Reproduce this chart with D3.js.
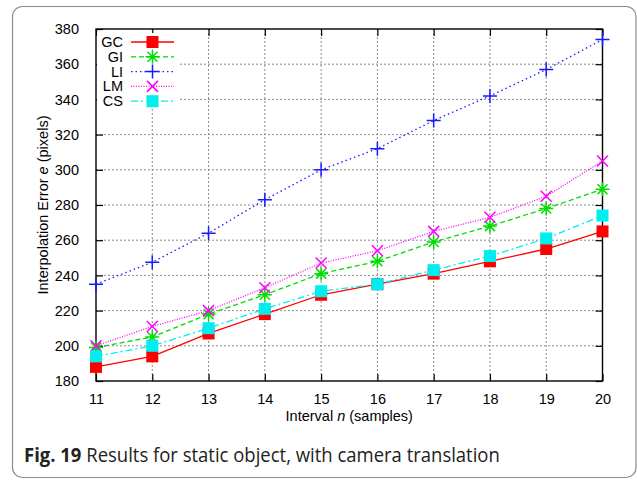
<!DOCTYPE html>
<html>
<head>
<meta charset="utf-8">
<script src="https://cdn.jsdelivr.net/npm/d3@7"></script>
<style>
  html, body { margin: 0; padding: 0; background: #fff; }
  svg { display: block; }
</style>
</head>
<body>
<svg id="chart" width="637" height="480"></svg>
<script>
// Interval n (samples)
const intervals = [11, 12, 13, 14, 15, 16, 17, 18, 19, 20];

// Interpolation error e (pixels) per method
const gcValues = [188, 194, 207, 218, 229, 235, 241, 248, 255, 265];
const giValues = [199, 205, 218, 229, 241, 248, 259, 268, 278, 289];
const liValues = [235, 247.5, 264, 283, 300, 312, 328, 342, 357, 374];
const lmValues = [200, 211, 220, 233, 247, 254, 265, 273, 285, 305];
const csValues = [194, 200, 210, 221, 231, 235, 243, 251, 261, 274];

const seriesNames = ["GC", "GI", "LI", "LM", "CS"];
const xTicks = [11, 12, 13, 14, 15, 16, 17, 18, 19, 20];
const yTicks = [180, 200, 220, 240, 260, 280, 300, 320, 340, 360, 380];

const series = [
  { name: seriesNames[0], values: gcValues, color: "#ff0000", dash: null,        marker: "square" },
  { name: seriesNames[1], values: giValues, color: "#00dd00", dash: "5,3",       marker: "star" },
  { name: seriesNames[2], values: liValues, color: "#1a1aff", dash: "1.5,3",     marker: "plus" },
  { name: seriesNames[3], values: lmValues, color: "#ff00ff", dash: "1,1.5",     marker: "cross" },
  { name: seriesNames[4], values: csValues, color: "#00eeee", dash: "7,3,2,3",   marker: "square" }
];

const svg = d3.select("#chart");
const font = "'Liberation Sans', Arial, Helvetica, sans-serif";

// outer rounded frame
svg.append("rect")
  .attr("x", 12.5).attr("y", 6.5).attr("width", 623.5).attr("height", 471)
  .attr("rx", 10).attr("ry", 10)
  .attr("fill", "none").attr("stroke", "#8a8a8a").attr("stroke-width", 1.2);

const plot = { left: 96, right: 602.5, top: 29, bottom: 381 };

const x = d3.scaleLinear().domain([11, 20]).range([plot.left, plot.right]);
const y = d3.scaleLinear().domain([180, 380]).range([plot.bottom, plot.top]);

const g = svg.append("g");

// grid
g.append("g").selectAll("line").data(xTicks.slice(1, -1)).join("line")
  .attr("x1", d => x(d)).attr("x2", d => x(d))
  .attr("y1", plot.top).attr("y2", plot.bottom)
  .attr("stroke", "#8c8c8c").attr("stroke-width", 1).attr("stroke-dasharray", "2,2");
g.append("g").selectAll("line").data(yTicks.slice(1, -1)).join("line")
  .attr("y1", d => y(d)).attr("y2", d => y(d))
  .attr("x1", plot.left).attr("x2", plot.right)
  .attr("stroke", "#8c8c8c").attr("stroke-width", 1).attr("stroke-dasharray", "2,2");

// axes with inward ticks on all sides
const tickLen = 7;
const axisStyle = sel => {
  sel.select(".domain").remove();
  sel.selectAll(".tick line").attr("stroke", "#000").attr("stroke-width", 1.2);
  sel.selectAll(".tick text").attr("font-family", font).attr("font-size", 14.5).attr("fill", "#000");
};

g.append("g").attr("transform", `translate(0,${plot.bottom})`)
  .call(d3.axisBottom(x).tickValues(xTicks).tickFormat(d3.format("d")).tickSizeInner(-tickLen).tickSizeOuter(0).tickPadding(13))
  .call(axisStyle);
g.append("g").attr("transform", `translate(0,${plot.top})`)
  .call(d3.axisTop(x).tickValues(xTicks).tickFormat("").tickSizeInner(-tickLen).tickSizeOuter(0))
  .call(axisStyle);
g.append("g").attr("transform", `translate(${plot.left},0)`)
  .call(d3.axisLeft(y).tickValues(yTicks).tickFormat(d3.format("d")).tickSizeInner(-tickLen).tickSizeOuter(0).tickPadding(17))
  .call(axisStyle);
g.append("g").attr("transform", `translate(${plot.right},0)`)
  .call(d3.axisRight(y).tickValues(yTicks).tickFormat("").tickSizeInner(-tickLen).tickSizeOuter(0))
  .call(axisStyle);

// legend background covering the grid
const legend = { textRight: 123, lineX1: 131, lineX2: 174, markX: 152.5, y0: 42, dy: 14.8 };
g.append("rect")
  .attr("x", plot.left + 1).attr("y", 33).attr("width", 82).attr("height", 76)
  .attr("fill", "#fff");

// frame
g.append("rect")
  .attr("x", plot.left).attr("y", plot.top)
  .attr("width", plot.right - plot.left).attr("height", plot.bottom - plot.top)
  .attr("fill", "none").attr("stroke", "#000").attr("stroke-width", 1.4);

function drawMarker(sel, type, color) {
  if (type === "square") {
    sel.append("rect").attr("x", -6).attr("y", -6).attr("width", 12).attr("height", 12).attr("fill", color);
  } else if (type === "plus") {
    sel.append("path").attr("d", "M-7,0H7M0,-7V7").attr("stroke", color).attr("stroke-width", 1.5).attr("fill", "none");
  } else if (type === "cross") {
    sel.append("path").attr("d", "M-5.5,-5.5L5.5,5.5M-5.5,5.5L5.5,-5.5").attr("stroke", color).attr("stroke-width", 1.5).attr("fill", "none");
  } else if (type === "star") {
    sel.append("path").attr("d", "M-7,0H7M0,-7V7M-5,-5L5,5M-5,5L5,-5").attr("stroke", color).attr("stroke-width", 1.5).attr("fill", "none");
  }
}

const line = d3.line().x((d, i) => x(intervals[i])).y(d => y(d));

series.forEach((s, k) => {
  const sg = g.append("g");
  sg.append("path").datum(s.values)
    .attr("d", line)
    .attr("fill", "none").attr("stroke", s.color).attr("stroke-width", 1.3)
    .attr("stroke-dasharray", s.dash);
  s.values.forEach((v, i) => {
    const m = sg.append("g").attr("transform", `translate(${x(intervals[i])},${y(v)})`);
    drawMarker(m, s.marker, s.color);
  });

  // legend entry
  const ly = legend.y0 + k * legend.dy;
  const lg = g.append("g");
  lg.append("text").attr("x", legend.textRight).attr("y", ly).attr("dy", "0.35em")
    .attr("text-anchor", "end").attr("font-family", font).attr("font-size", 14.5).text(s.name);
  lg.append("line").attr("x1", legend.lineX1).attr("x2", legend.lineX2).attr("y1", ly).attr("y2", ly)
    .attr("stroke", s.color).attr("stroke-width", 1.3).attr("stroke-dasharray", s.dash);
  const lm = lg.append("g").attr("transform", `translate(${legend.markX},${ly})`);
  drawMarker(lm, s.marker, s.color);
});

// axis titles
const yTitle = svg.append("text")
  .attr("transform", `translate(48,${(plot.top + plot.bottom) / 2}) rotate(-90)`)
  .attr("text-anchor", "middle").attr("font-family", font).attr("font-size", 14.5);
yTitle.append("tspan").text("Interpolation Error ");
yTitle.append("tspan").attr("font-style", "italic").text("e");
yTitle.append("tspan").text(" (pixels)");

const xTitle = svg.append("text")
  .attr("x", (plot.left + plot.right) / 2).attr("y", 421)
  .attr("text-anchor", "middle").attr("font-family", font).attr("font-size", 14.5);
xTitle.append("tspan").text("Interval ");
xTitle.append("tspan").attr("font-style", "italic").text("n");
xTitle.append("tspan").text(" (samples)");

// caption
const capG = svg.append("g").attr("transform", "translate(24,462)");
const cap = capG.append("text").attr("font-family", "'Open Sans', 'Noto Sans', sans-serif").attr("font-size", 20).attr("fill", "#222");
cap.append("tspan").attr("font-weight", "bold").text("Fig. 19");
cap.append("tspan").text(" Results for static object, with camera translation");
const w = cap.node().getComputedTextLength();
capG.attr("transform", `translate(24,462) scale(${476 / w},1)`);
</script>
</body>
</html>
